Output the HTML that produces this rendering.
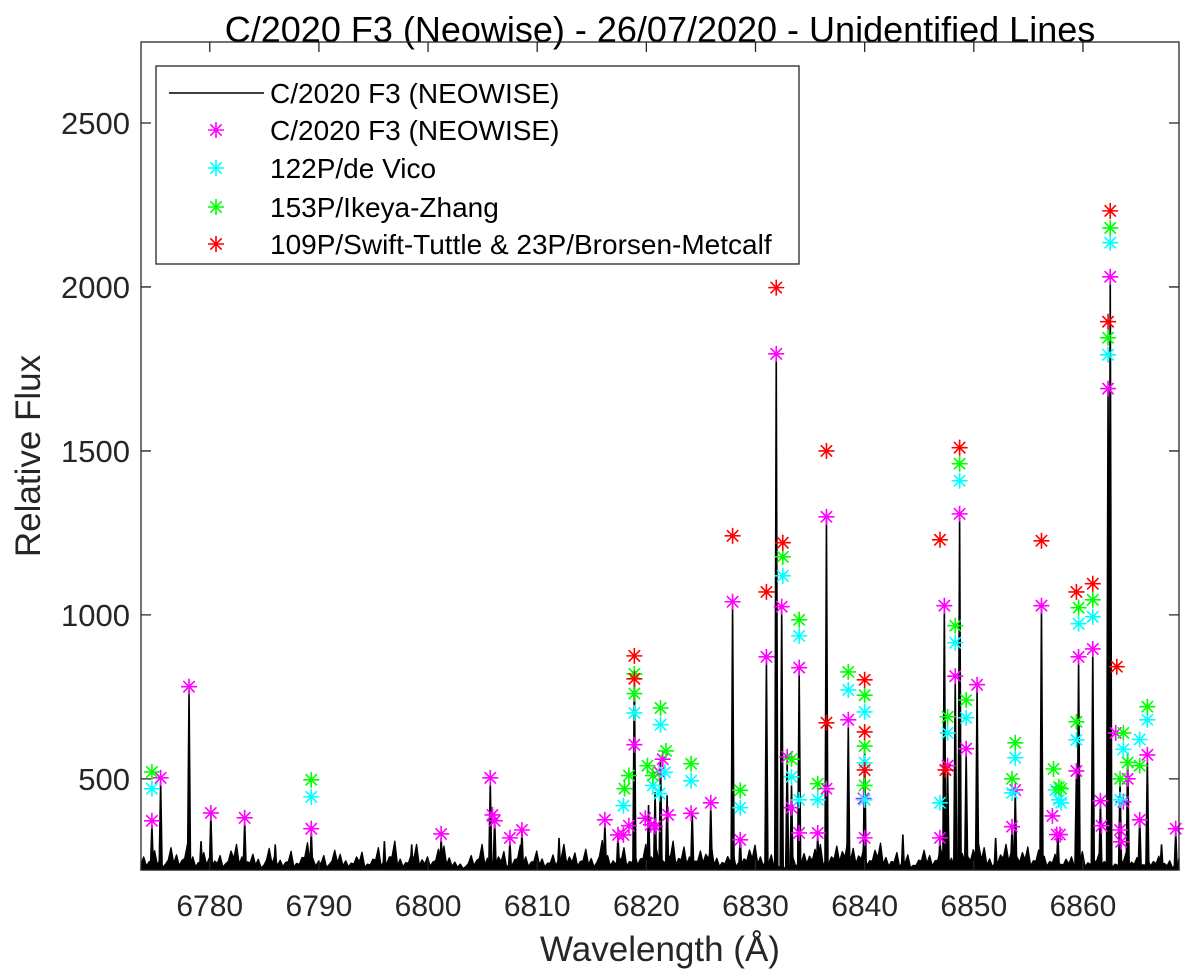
<!DOCTYPE html>
<html><head><meta charset="utf-8"><style>
html,body{margin:0;padding:0;background:#fff;}
svg{display:block;font-family:"Liberation Sans",Arial,sans-serif;}
</style></head><body>
<svg id="chart" width="1200" height="976" viewBox="0 0 1200 976" xmlns="http://www.w3.org/2000/svg">
<rect width="1200" height="976" fill="#fff"/>
<text x="660" y="42" font-size="36" text-anchor="middle" fill="#000">C/2020 F3 (Neowise) - 26/07/2020 - Unidentified Lines</text>
<text transform="translate(40,456) rotate(-90)" font-size="35" text-anchor="middle" fill="#262626">Relative Flux</text>
<text x="660" y="961" font-size="35" text-anchor="middle" fill="#262626">Wavelength (Å)</text>
<g id="plot"></g>
<g id="axes"></g>
<g id="legend"></g>
</svg>
<script>
const xTicks=[6780,6790,6800,6810,6820,6830,6840,6850,6860];
const yTicks=[500,1000,1500,2000,2500];
const xDomain=[6773.7,6868.8];
const yDomain=[222,2747];
// baseline noise, 0.5 A steps starting 6773.7
const baseline=[262,248,281,255,240,290,268,251,300,262,244,275,258,249,266,241,280,300,262,247,270,255,236,288,264,252,245,279,242,260,305,257,248,266,239,282,270,250,243,262,276,240,255,290,248,262,310,255,244,268,300,253,262,247,285,295,259,246,240,232,266,251,300,258,247,262,278,240,254,298,262,246,280,256,243,268,252,300,262,274,248,285,257,244,312,266,250,261,290,248,272,256,300,262,283,252,268,310,257,292,262,249,280,270,300,258,245,263,276,244,256,283,298,262,251,268,240,236,230,258,244,272,264,285,300,252,262,295,278,310,288,265,298,250,282,304,260,248,275,244,268,236,252,282,266,250,288,302,258,246,272,263,284,300,290,256,244,268,300,280,262,275,292,250,283,264,248,270,240,255,262,250,278,244,258,270,248,266,240,252,275,246,260,238,255,248,264,242,250,236,258];
const peakW=[6774.7,6775.5,6778.1,6780.1,6783.2,6789.3,6801.2,6805.7,6806.1,6807.5,6808.6,6816.2,6817.4,6818.9,6820.2,6820.8,6821.3,6821.9,6824.2,6825.9,6827.9,6828.6,6831.0,6831.9,6832.4,6832.9,6833.3,6834.0,6835.7,6836.5,6838.5,6840.0,6846.9,6847.3,6847.6,6848.3,6848.7,6849.3,6850.3,6853.5,6853.8,6856.2,6857.7,6859.4,6859.6,6860.9,6861.6,6862.3,6862.5,6863.4,6864.1,6865.2,6865.9,6868.5,6779.2,6786,6796,6798.5,6812,6843.5,6852,6867.2];
const peakF=[360,490,770,390,370,340,320,490,380,310,340,365,330,830,420,460,560,450,400,420,1030,320,860,1790,1020,560,480,830,330,1290,660,600,320,1020,530,800,1300,580,780,350,460,1020,330,520,860,890,430,1690,2030,500,580,380,560,340,310,300,310,300,320,330,320,300];
const magW=[6774.7,6775.5,6778.1,6780.1,6783.2,6789.3,6801.2,6805.7,6805.9,6806.1,6807.5,6808.6,6816.2,6817.4,6817.9,6818.4,6818.9,6819.9,6820.4,6820.8,6821.2,6821.5,6822.0,6824.1,6825.9,6827.9,6828.6,6831.0,6831.9,6832.4,6832.9,6833.3,6834.0,6834.0,6835.7,6836.5,6836.5,6838.5,6839.9,6840.0,6846.9,6847.3,6847.6,6848.3,6848.7,6849.3,6850.3,6853.5,6853.8,6856.2,6857.2,6857.6,6857.9,6859.4,6859.6,6860.9,6861.6,6861.7,6862.3,6862.5,6863.0,6863.4,6863.5,6863.7,6864.1,6865.2,6865.9,6868.5];
const magF=[372,503,781,396,381,348,332,503,390,372,320,344,375,329,329,357,604,380,360,355,520,560,390,395,427,1040,314,872,1796,1025,567,412,839,335,335,1299,470,680,440,320,320,1028,540,813,1308,592,787,354,466,1028,387,330,330,524,872,896,433,357,1690,2031,640,344,308,430,500,375,573,348];
const cyanW=[6774.7,6789.3,6817.9,6818.9,6820.6,6821.2,6821.3,6821.7,6824.1,6828.6,6832.5,6833.3,6834.0,6834.0,6835.7,6838.5,6840.0,6840.0,6840.0,6846.9,6847.6,6848.3,6848.7,6849.3,6853.5,6853.8,6857.5,6857.8,6858.0,6859.4,6859.6,6860.9,6862.3,6862.5,6863.4,6863.7,6865.2,6865.9];
const cyanF=[470,445,418,701,480,455,665,520,494,412,1119,506,936,436,436,771,704,549,436,427,640,915,1409,686,457,564,466,436,427,619,973,994,1793,2135,436,590,620,680];
const greenW=[6774.7,6789.3,6818.0,6818.4,6818.9,6818.9,6820.1,6820.6,6821.3,6821.8,6824.1,6828.6,6832.5,6833.3,6834.0,6835.7,6838.5,6840.0,6840.0,6840.0,6847.6,6848.3,6848.7,6849.3,6853.5,6853.8,6857.3,6857.8,6858.0,6859.4,6859.6,6860.9,6862.3,6862.5,6863.4,6863.7,6864.1,6865.2,6865.9];
const greenF=[521,497,470,510,760,820,540,510,716,585,546,465,1177,560,985,485,826,755,600,480,689,967,1461,740,500,610,530,475,470,674,1022,1046,1845,2180,500,640,550,540,720];
const redW=[6818.9,6818.9,6827.9,6831.0,6831.9,6832.5,6836.5,6836.5,6840.0,6840.0,6840.0,6846.9,6847.4,6848.7,6856.2,6859.4,6860.9,6862.3,6862.5,6863.1];
const redF=[875,805,1241,1070,1998,1220,1500,671,802,643,527,1229,527,1510,1226,1070,1095,1894,2232,842];

const L=141,R=1179,T=42,B=870;
const NS="http://www.w3.org/2000/svg";
function sx(w){return L+(w-xDomain[0])/(xDomain[1]-xDomain[0])*(R-L);}
function sy(f){return B-(f-yDomain[0])/(yDomain[1]-yDomain[0])*(B-T);}
function mk(tag,attrs,parent){const e=document.createElementNS(NS,tag);for(const k in attrs)e.setAttribute(k,attrs[k]);parent.appendChild(e);return e;}
const plot=document.getElementById('plot'),axes=document.getElementById('axes'),leg=document.getElementById('legend');

let pd='M'+L+','+B;
baseline.forEach((v,i)=>{
  const x0=sx(xDomain[0]+i*0.5), x1=sx(xDomain[0]+i*0.5+0.25);
  if(x0>R) return;
  const low=yDomain[0]+(v-yDomain[0])*0.45;
  pd+='L'+x0.toFixed(1)+','+sy(low).toFixed(1)+'L'+Math.min(x1,R).toFixed(1)+','+sy(v).toFixed(1);
});
pd+='L'+R+','+B+'Z';
const bp=mk('path',{d:pd,stroke:'#000','stroke-width':'1.3',fill:'#000','stroke-linejoin':'round'},plot);


peakW.forEach((w,i)=>{
  const p=mk('path',{d:`M${sx(w)-1.5},${B}L${sx(w)},${sy(peakF[i])}L${sx(w)+1.5},${B}`,stroke:'#000','stroke-width':'1.6',fill:'#000'},plot);
  
  
});
function star(x,y,c,parent,r){r=r||8;const a=r*0.707;
  return mk('path',{d:`M${x-r},${y}H${x+r}M${x},${y-r}V${y+r}M${x-a},${y-a}L${x+a},${y+a}M${x-a},${y+a}L${x+a},${y-a}`,stroke:c,'stroke-width':'1.6',fill:'none'},parent);}
function series(W,F,c,name){W.forEach((w,i)=>{const s=star(sx(w),sy(F[i]),c,plot);
  
  });}
series(magW,magF,'#ff00ff','marker-neowise');
series(cyanW,cyanF,'#00ffff','marker-de-vico');
series(greenW,greenF,'#00ff00','marker-ikeya-zhang');
series(redW,redF,'#ff0000','marker-swift-tuttle');

mk('rect',{x:L,y:T,width:R-L,height:B-T,fill:'none',stroke:'#262626','stroke-width':'1.3'},axes);
xTicks.forEach(t=>{const x=sx(t);
  mk('path',{d:`M${x},${B}V${B-10}M${x},${T}V${T+10}`,stroke:'#262626','stroke-width':'1.3'},axes);
  const tx=mk('text',{x:x,y:916,'font-size':'30','text-anchor':'middle',fill:'#262626'},axes);tx.textContent=t;
  
  });
yTicks.forEach(t=>{const y=sy(t);
  mk('path',{d:`M${L},${y}H${L+10}M${R},${y}H${R-10}`,stroke:'#262626','stroke-width':'1.3'},axes);
  const tx=mk('text',{x:130,y:y+11,'font-size':'31','text-anchor':'end',fill:'#262626'},axes);tx.textContent=t;
  
  });

mk('rect',{x:156,y:66,width:643,height:198,fill:'#fff',stroke:'#262626','stroke-width':'1.3'},leg);
const labels=['C/2020 F3 (NEOWISE)','C/2020 F3 (NEOWISE)','122P/de Vico','153P/Ikeya-Zhang','109P/Swift-Tuttle & 23P/Brorsen-Metcalf'];
const cols=['#000','#ff00ff','#00ffff','#00ff00','#ff0000'];
const ly=[93,130,168,207,244];
labels.forEach((lab,i)=>{
  if(i===0) mk('line',{x1:169,x2:264,y1:ly[i],y2:ly[i],stroke:'#000','stroke-width':'1.6'},leg);
  else star(216,ly[i],cols[i],leg,8);
  const t=mk('text',{x:270,y:ly[i]+10,'font-size':'28',fill:'#000'},leg);t.textContent=lab;
  
  
});
</script>
</body></html>
